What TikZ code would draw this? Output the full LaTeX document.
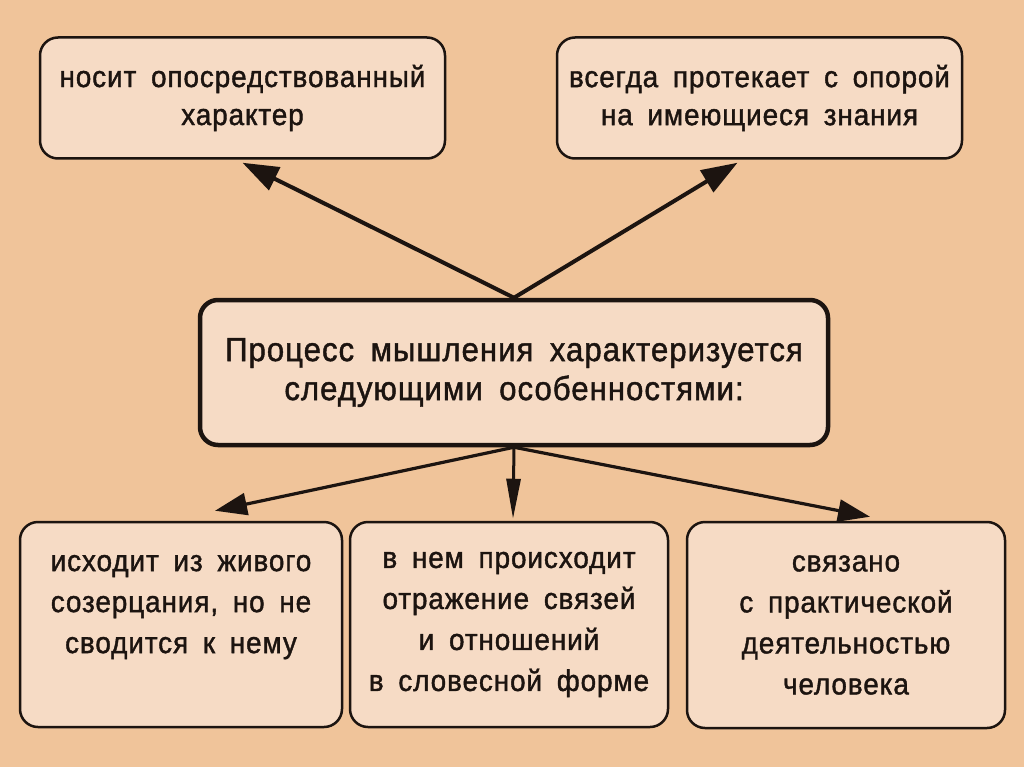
\documentclass[tikz,border=0pt]{standalone}
\usepackage{fontspec}
\setmainfont[FakeStretch=0.93,FakeBold=1.3,WordSpace=1.7,LetterSpace=3]{Liberation Sans}
\usetikzlibrary{arrows.meta}
\definecolor{bgpeach}{RGB}{240,196,154}
\definecolor{boxfill}{RGB}{246,219,197}
\definecolor{ink}{RGB}{28,20,16}

\tikzset{
  featbox/.style={draw=ink, line width=2.5pt, fill=boxfill, rounded corners=18pt,
    inner sep=0pt, align=center, text=ink, font=\fontsize{30}{41}\selectfont},
  topbox/.style={featbox, font=\fontsize{30}{38}\selectfont},
  mainbox/.style={featbox, line width=4.5pt, font=\fontsize{33.5}{39}\selectfont},
  arr/.style={draw=ink, line width=4pt, -{Triangle[length=36pt,width=25pt]}},
  arrlow/.style={draw=ink, line width=3.2pt, -{Triangle[length=32pt,width=22pt]}},
  arrdown/.style={draw=ink, line width=3pt, -{Triangle[length=40pt,width=14pt]}}
}

\begin{document}
\begin{tikzpicture}[x=1pt,y=-1pt]
  \fill[bgpeach] (0,0) rectangle (1024,767);
  \useasboundingbox (0,0) rectangle (1024,767);

  % upper row
  \node[topbox, minimum width=405pt, minimum height=121pt] (mediated) at (242.5,98)
    {носит опосредствованный\\ характер};
  \node[topbox, minimum width=405pt, minimum height=121pt] (knowledge) at (759.5,98)
    {всегда протекает с опорой\\ на имеющиеся знания};

  % central statement
  \node[mainbox, minimum width=628pt, minimum height=145pt] (thinking) at (514,372.5)
    {Процесс мышления характеризуется\\ следующими особенностями:};

  % lower row
  \node[featbox, minimum width=322pt, minimum height=205pt] (contemplation) at (181,624.5)
    {исходит из живого\\ созерцания, но не\\ сводится к нему\\ \phantom{x}};
  \node[featbox, minimum width=318pt, minimum height=205pt] (verbal) at (509,624.5)
    {в нем происходит\\ отражение связей\\ и отношений\\ в словесной форме};
  \node[featbox, minimum width=318pt, minimum height=206pt] (practice) at (846,625)
    {связано\\ с практической\\ деятельностью\\ человека};

  \draw[arr] (thinking.north) -- ([yshift=-3pt]mediated.south);
  \draw[arr] (thinking.north) -- ([xshift=-22pt,yshift=-3pt]knowledge.south);
  \draw[arrlow] (thinking.south) -- ([xshift=34pt,yshift=10pt]contemplation.north);
  \draw[arrdown] (thinking.south) -- ([xshift=4pt,yshift=2pt]verbal.north);
  \draw[arrlow] (thinking.south) -- ([xshift=24pt,yshift=4pt]practice.north);
\end{tikzpicture}
\end{document}
